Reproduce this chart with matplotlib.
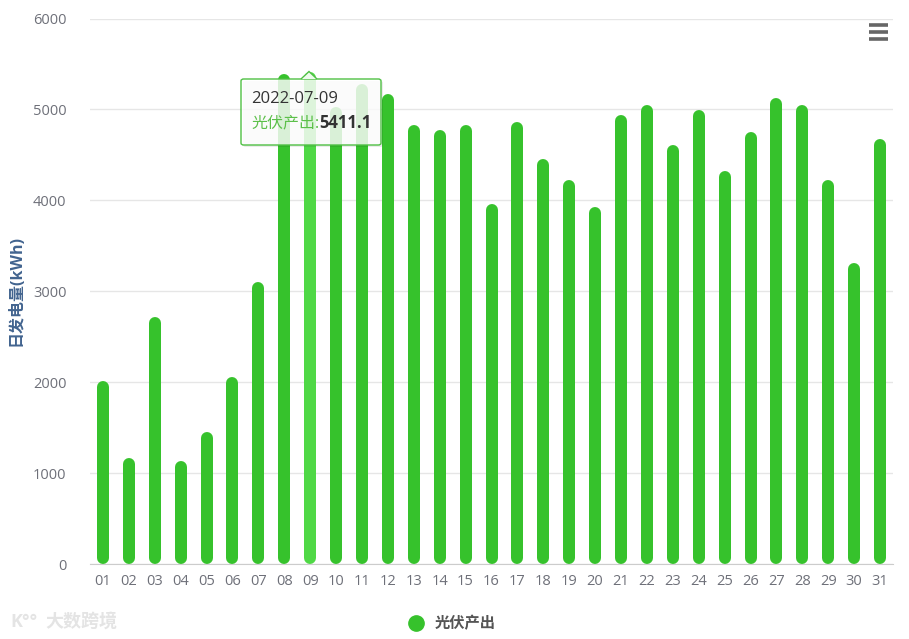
import matplotlib
matplotlib.use("Agg")
import matplotlib.pyplot as plt
from matplotlib.lines import Line2D
from matplotlib.patches import FancyBboxPatch, Polygon

plt.rcParams['font.family'] = ['Open Sans', 'Noto Sans CJK SC', 'DejaVu Sans']

# daily PV output, July 2022
days = ["01", "02", "03", "04", "05", "06", "07", "08", "09", "10", "11",
        "12", "13", "14", "15", "16", "17", "18", "19", "20", "21", "22",
        "23", "24", "25", "26", "27", "28", "29", "30", "31"]
output_kwh = [2015, 1165, 2720, 1135, 1455, 2060, 3100, 5390, 5411.1, 5025,
              5275, 5175, 4825, 4770, 4825, 3955, 4860, 4450, 4220, 3925,
              4935, 5045, 4605, 4990, 4320, 4755, 5125, 5045, 4220, 3315, 4680]
yticks = [0, 1000, 2000, 3000, 4000, 5000, 6000]
hover_idx = 8
series_name = "光伏产出"

GREEN = "#36c22c"
GREEN_HI = "#4fd845"
W, H = 909, 639


def fx(px):
    return px / W


def fy(py):
    return 1 - py / H


fig = plt.figure(figsize=(W / 100, H / 100), dpi=100)
ax = fig.add_axes([fx(90), fy(564), fx(893) - fx(90), fy(18.5) - fy(564)])
ax.set_xlim(-0.5, len(days) - 0.5)
ax.set_ylim(0, 6000)

# rounded bars: thick lines with round caps, cap radius converted to data units
bar_px = 12
px_per_unit = ax.bbox.height / 6000
r = (bar_px / 2) / px_per_unit
lw = bar_px * 72 / fig.dpi
for i, v in enumerate(output_kwh):
    c = GREEN_HI if i == hover_idx else GREEN
    ax.plot([i, i], [r, v - r], color=c, lw=lw, solid_capstyle="round", zorder=3)

ax.set_yticks(yticks)
ax.set_xticks(range(len(days)))
ax.set_xticklabels(days)
ax.grid(axis="y", color="#e6e6e6", lw=1, zorder=0)
for s in ["top", "right", "left"]:
    ax.spines[s].set_visible(False)
ax.spines["bottom"].set_color("#cccccc")
ax.tick_params(axis="y", length=0, pad=17, labelsize=10.5, labelcolor="#6e7079")
ax.tick_params(axis="x", length=0, pad=7, labelsize=10.5, labelcolor="#6e7079")

fig.text(fx(17), fy(291), "日发电量(kWh)", rotation=90, ha="center", va="center",
         fontsize=11.5, fontweight="bold", color="#42648f")

# legend
handle = Line2D([], [], marker="o", ls="", color=GREEN, markersize=11)
fig.legend([handle], [series_name], loc="center", bbox_to_anchor=(fx(448), fy(624)),
           frameon=False, handletextpad=0.2, prop={"weight": "bold", "size": 11},
           labelcolor="#555555")

# tooltip on hovered bar
tx0, ty0, tx1, ty1 = 241, 79, 381, 145
shadow = FancyBboxPatch((fx(tx0 + 2), fy(ty1 + 2)), fx(tx1 - tx0), fy(ty0) - fy(ty1),
                        boxstyle="round,pad=0,rounding_size=0.003", transform=fig.transFigure,
                        facecolor=(0, 0, 0, 0.08), edgecolor="none", zorder=9)
fig.add_artist(shadow)
box = FancyBboxPatch((fx(tx0), fy(ty1)), fx(tx1 - tx0), fy(ty0) - fy(ty1),
                     boxstyle="round,pad=0,rounding_size=0.003", transform=fig.transFigure,
                     facecolor=(1, 1, 1, 0.82), edgecolor="#4fc044", lw=1.0, zorder=10)
fig.add_artist(box)
arrow = Polygon([(fx(301), fy(ty0)), (fx(309), fy(71.5)), (fx(317), fy(ty0))],
                closed=False, transform=fig.transFigure, facecolor=(1, 1, 1, 0.9),
                edgecolor="#4fc044", lw=1.0, zorder=11)
fig.add_artist(arrow)
fig.text(fx(251), fy(99), "2022-07-" + days[hover_idx], fontsize=12, color="#333333",
         va="center", ha="left", zorder=12)
t1 = fig.text(fx(251), fy(123), series_name + ":", fontsize=11.5, color="#5cc04a",
              va="center", ha="left", zorder=12)
fig.canvas.draw()
bb = t1.get_window_extent()
fig.text(bb.x1 / W, fy(123), f"{output_kwh[hover_idx]:.1f}", fontsize=12,
         fontweight="bold", color="#333333", va="center", ha="left", zorder=12)

# toolbox menu icon
for yy in [25, 32, 39]:
    fig.add_artist(Line2D([fx(869), fx(888)], [fy(yy), fy(yy)], transform=fig.transFigure,
                          color="#666666", lw=2.6, solid_capstyle="butt"))

# watermark
fig.text(fx(10), fy(622), "K°°", fontsize=13, color="#e4e4e4", va="center",
         ha="left", fontweight="bold")
fig.text(fx(45), fy(622), "大数跨境", fontsize=13, color="#e4e4e4", va="center",
         ha="left", fontweight="bold")

fig.savefig("out.png", dpi=100)
